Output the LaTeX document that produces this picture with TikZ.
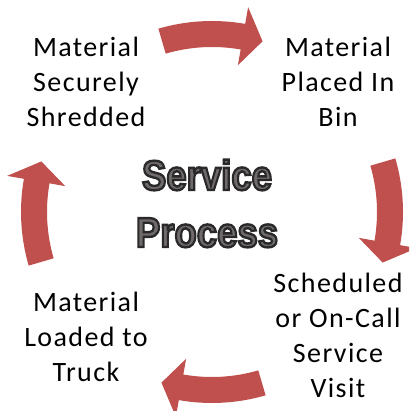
\documentclass[tikz,border=0pt]{standalone}
\usepackage{fontspec}
\usepackage{graphicx}
\setmainfont{Carlito}
\newfontfamily\cfont{Liberation Sans}
\usetikzlibrary{calc}
\definecolor{arrowred}{RGB}{192,80,77}
\definecolor{cfill}{RGB}{112,107,106}
\newcommand\olon{\special{pdf:literal direct 2 Tr 2.4 w 0.16 0.16 0.16 RG}}
\newcommand\oloff{\special{pdf:literal direct 0 Tr}}
\newcommand\sqz[1]{\scalebox{0.87}[1]{\olon#1\oloff}}
\tikzset{
  arr/.style={fill=arrowred},
  lbl/.style={align=center, inner sep=0pt, anchor=base,
    font=\fontsize{28}{35}\selectfont\addfontfeatures{LetterSpace=5}},
  ctxt/.style={align=center, inner sep=0pt, anchor=base, text=cfill,
    font=\fontsize{42}{57}\selectfont\cfont\bfseries}
}
\begin{document}
\begin{tikzpicture}[x=1pt,y=1pt]
\useasboundingbox (0,0) rectangle (409,411);
\clip (0,0) rectangle (409,411);
\coordinate (C) at (212,199);
\begin{scope}[shift={(C)}]
  \foreach \a in {90,0,-90,180} {
    \fill[arr] (\a+16.3:191pt) arc[start angle=\a+16.3, end angle=\a-10, radius=191pt]
      -- (\a-10:208pt) -- (\a-16.5:178pt) -- (\a-10:149pt) -- (\a-10:165pt)
      arc[start angle=\a-10, end angle=\a+16.3, radius=165pt] -- cycle;
  }
\end{scope}
\node[lbl] (tr) at (338,284) {Material\\Placed In\\Bin};
\node[lbl] (br) at (338,13) {Scheduled\\or On-Call\\Service\\Visit};
\node[lbl] (bl) at (86,29) {Material\\Loaded to\\Truck};
\node[lbl] (tl) at (86,284) {Material\\Securely\\Shredded};
\node[ctxt] (title) at (207,164) {\sqz{Service}\\\sqz{Process}};
\end{tikzpicture}
\end{document}
